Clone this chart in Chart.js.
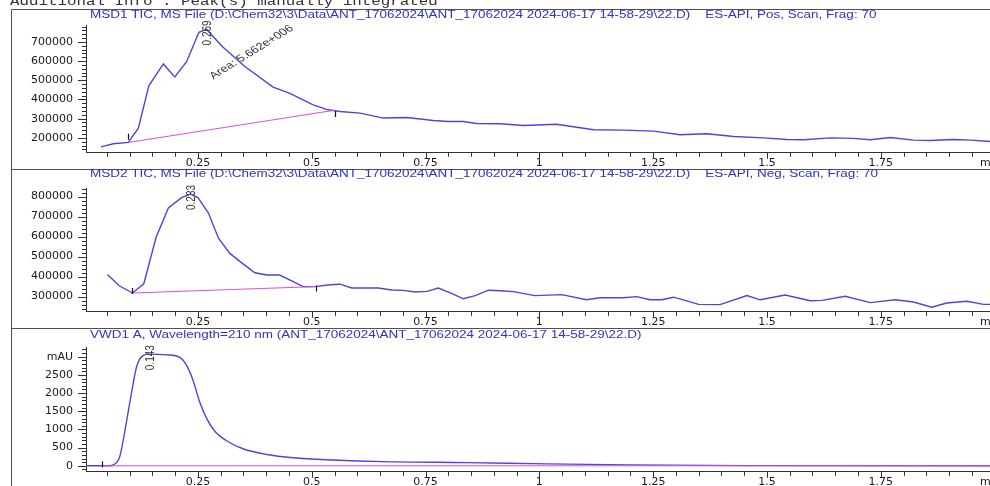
<!DOCTYPE html>
<html>
<head>
<meta charset="utf-8">
<script src="https://cdn.jsdelivr.net/npm/chart.js@4.4.1/dist/chart.umd.min.js"></script>
<style>
  html, body { margin: 0; padding: 0; background: #ffffff; }
  #page { position: relative; width: 990px; height: 486px; overflow: hidden; background: #ffffff; }
  #page canvas { position: absolute; left: 0; }
</style>
</head>
<body>
<div id="page">
  <canvas id="msd1" width="990" height="174" style="top:0px"></canvas>
  <canvas id="msd2" width="990" height="164" style="top:169px"></canvas>
  <canvas id="vwd1" width="990" height="165" style="top:328px"></canvas>
</div>
<script>
// ---------- retention time axis (min) ----------
const timeTicks = [0.25, 0.5, 0.75, 1, 1.25, 1.5, 1.75];
const timeTickLabels = ['0.25', '0.5', '0.75', '1', '1.25', '1.5', '1.75'];

// ---------- MSD1 TIC, ES-API positive scan ----------
const msd1Time = [0.037, 0.064, 0.097, 0.119, 0.142, 0.174, 0.199, 0.225, 0.252, 0.269, 0.304, 0.353,
  0.415, 0.452, 0.503, 0.536, 0.562, 0.606, 0.657, 0.709, 0.767, 0.800, 0.833, 0.862, 0.914, 0.965,
  1.038, 1.119, 1.185, 1.251, 1.309, 1.368, 1.427, 1.492, 1.544, 1.581, 1.639, 1.690, 1.727, 1.771,
  1.822, 1.859, 1.910, 1.947, 1.990];
const msd1Counts = [153000, 169000, 176000, 250000, 471000, 585000, 517000, 597000, 750000, 765000, 675000, 572000,
  464000, 432000, 372000, 346000, 337000, 329000, 303000, 306000, 290000, 285000, 285000, 275000, 273000, 264000,
  271000, 242000, 240000, 235000, 216000, 221000, 207000, 200000, 191000, 190000, 200000, 197000, 190000, 202000,
  188000, 186000, 191000, 188000, 181000];
const msd1BaseTime = [0.097, 0.551];
const msd1BaseCounts = [176000, 344000];
const msd1YTicks = [200000, 300000, 400000, 500000, 600000, 700000];
const msd1YTickLabels = ['200000', '300000', '400000', '500000', '600000', '700000'];
const msd1Peak = { time: 0.269, value: 765000, area: 'Area: 5.662e+006' };

// ---------- MSD2 TIC, ES-API negative scan ----------
const msd2Time = [0.051, 0.077, 0.106, 0.131, 0.158, 0.185, 0.214, 0.233, 0.250, 0.273, 0.295, 0.320,
  0.342, 0.375, 0.401, 0.429, 0.456, 0.481, 0.507, 0.540, 0.562, 0.588, 0.621, 0.646, 0.676, 0.701,
  0.727, 0.753, 0.778, 0.807, 0.833, 0.859, 0.888, 0.914, 0.943, 0.990, 1.049, 1.104, 1.133, 1.185,
  1.214, 1.243, 1.269, 1.295, 1.350, 1.397, 1.456, 1.485, 1.540, 1.595, 1.621, 1.672, 1.727, 1.782,
  1.822, 1.862, 1.895, 1.939, 1.976, 1.990];
const msd2Counts = [411000, 354000, 318000, 364000, 597000, 743000, 795000, 813000, 795000, 718000, 592000, 516000,
  476000, 419000, 408000, 408000, 379000, 350000, 350000, 359000, 362000, 343000, 343000, 343000, 333000, 331000,
  323000, 326000, 343000, 316000, 289000, 305000, 332000, 329000, 325000, 305000, 310000, 284000, 294000, 294000,
  300000, 284000, 284000, 297000, 261000, 260000, 305000, 284000, 308000, 279000, 281000, 302000, 270000, 284000,
  273000, 247000, 268000, 277000, 261000, 261000];
const msd2BaseTime = [0.106, 0.509];
const msd2BaseCounts = [318000, 350000];
const msd2YTicks = [300000, 400000, 500000, 600000, 700000, 800000];
const msd2YTickLabels = ['300000', '400000', '500000', '600000', '700000', '800000'];
const msd2Peak = { time: 0.233, value: 813000 };

// ---------- VWD1 A, 210 nm ----------
const vwdTime = [0.004, 0.056, 0.064, 0.078, 0.093, 0.104, 0.115, 0.126, 0.143, 0.181, 0.210, 0.225,
  0.240, 0.254, 0.269, 0.287, 0.313, 0.349, 0.401, 0.459, 0.547, 0.657, 0.840, 1.016, 1.199, 1.456, 1.990];
const vwdAbs = [0, 0, 26, 246, 1217, 2010, 2716, 2997, 3070, 3051, 2980, 2759,
  2320, 1746, 1305, 952, 688, 468, 310, 220, 159, 114, 87, 53, 26, 5, 0];
const vwdBaseTime = [0.040, 1.990];
const vwdBaseAbs = [0, 0];
const vwdYTicks = [0, 500, 1000, 1500, 2000, 2500, 3000];
const vwdYTickLabels = ['0', '500', '1000', '1500', '2000', '2500', 'mAU'];
const vwdPeak = { time: 0.143, value: 3070 };

// ---------- styling ----------
const TRACE = '#4848d8';
const BASELINE = '#e04ce0';
const INK = '#1a1a1a';
const TITLE_INK = '#3232c8';
const FRAME = '#505050';
const SX = 1.3;                       // horizontal stretch of the plot lettering
const TICK_FONT = { family: 'DejaVu Sans', size: 11 };

const zip = (xs, ys) => xs.map((x, i) => ({ x, y: ys[i] }));

function stretchedText(ctx, text, x, y, o) {
  ctx.save();
  ctx.translate(x, y);
  ctx.scale(o.sx || SX, 1);
  if (o.angle) ctx.rotate(o.angle);
  ctx.font = o.font;
  ctx.fillStyle = o.color || INK;
  ctx.textAlign = o.align || 'left';
  ctx.textBaseline = o.baseline || 'middle';
  ctx.fillText(text, 0, 0);
  ctx.restore();
}

// frame, titles, tick marks, peak annotations
const chemPanel = {
  id: 'chemPanel',
  afterDraw(chart, args, o) {
    const ctx = chart.ctx, xs = chart.scales.x, ys = chart.scales.y, ca = chart.chartArea;
    ctx.save();
    // panel frame
    ctx.strokeStyle = FRAME; ctx.lineWidth = 1;
    ctx.beginPath();
    ctx.moveTo(11.5, chart.height);
    ctx.lineTo(11.5, o.frameTop + 0.5);
    ctx.lineTo(chart.width, o.frameTop + 0.5);
    ctx.stroke();

    if (o.header) {
      stretchedText(ctx, o.header, 10, 5, { font: '12px "Liberation Mono"', color: '#333', baseline: 'alphabetic', sx: 1.32 });
    }
    stretchedText(ctx, o.title, 90, o.titleY, { font: '10px "Liberation Sans"', color: TITLE_INK, sx: 1.35 });

    // y tick marks
    ctx.strokeStyle = '#303030'; ctx.lineWidth = 1;
    ctx.beginPath();
    const first = Math.ceil(ys.min / o.yMinor);
    for (let k = first; k * o.yMinor <= ys.max; k++) {
      const v = k * o.yMinor;
      const py = Math.round(ys.getPixelForValue(v)) + 0.5;
      const major = o.yMajor.some(m => Math.abs(m - v) < o.yMinor / 10);
      ctx.moveTo(ca.left - (major ? 8 : 4), py);
      ctx.lineTo(ca.left, py);
    }
    // x tick marks, every 0.05 min
    for (let k = 1; k * 0.05 < xs.max; k++) {
      const t = k * 0.05;
      const px = Math.round(xs.getPixelForValue(t)) + 0.5;
      const major = timeTicks.some(m => Math.abs(m - t) < 0.001);
      ctx.moveTo(px, ca.bottom);
      ctx.lineTo(px, ca.bottom + (major ? 6 : 4));
    }
    ctx.stroke();

    // axis unit at the end of the time axis
    ctx.font = '11px "DejaVu Sans"'; ctx.fillStyle = INK;
    ctx.textAlign = 'left'; ctx.textBaseline = 'middle';
    ctx.fillText('min', 980, ca.bottom + 10.5);

    // integration event marks
    ctx.strokeStyle = '#111'; ctx.lineWidth = 1.2;
    ctx.beginPath();
    o.marks.forEach(([t, v]) => {
      const px = Math.round(xs.getPixelForValue(t)) + 0.5, py = ys.getPixelForValue(v);
      ctx.moveTo(px, py - 3); ctx.lineTo(px, py + 3);
    });
    ctx.stroke();

    // retention time label at the apex
    const ax = xs.getPixelForValue(o.peak.time), ay = ys.getPixelForValue(o.peak.value);
    stretchedText(ctx, o.peak.time.toFixed(3), ax + 1, ay + 16,
      { font: '10px "Liberation Sans"', color: '#333', angle: -Math.PI / 2 });
    if (o.peak.area) {
      stretchedText(ctx, o.peak.area, ax + 7, ay + 50,
        { font: '10px "Liberation Sans"', color: '#333', angle: -39 * Math.PI / 180, baseline: 'alphabetic' });
    }
    ctx.restore();
  }
};

function buildPanel(id, p) {
  const tickLabel = (values, labels) => v => {
    const i = values.findIndex(m => Math.abs(m - v) < 1e-6 * Math.max(1, Math.abs(m)));
    return i >= 0 ? labels[i] : '';
  };
  return new Chart(document.getElementById(id), {
    type: 'line',
    data: {
      datasets: [
        { data: zip(p.baseTime, p.baseVal), borderColor: BASELINE, borderWidth: 1, pointRadius: 0, tension: 0, order: 0 },
        { data: zip(p.time, p.val), borderColor: TRACE, borderWidth: 1.4, pointRadius: 0, order: 1,
          tension: p.smooth ? 0.4 : 0, cubicInterpolationMode: p.smooth ? 'monotone' : 'default' }
      ]
    },
    options: {
      responsive: false,
      animation: false,
      devicePixelRatio: 1,
      events: [],
      layout: { padding: { top: p.padTop, left: 0, right: 0, bottom: 0 } },
      plugins: {
        legend: { display: false },
        tooltip: { enabled: false },
        chemPanel: p.deco
      },
      scales: {
        x: {
          type: 'linear', min: 0.004, max: 1.99,
          afterBuildTicks: s => { s.ticks = timeTicks.map(v => ({ value: v })); },
          grid: { display: false, drawTicks: false },
          border: { display: true, color: '#303030', width: 1 },
          ticks: { autoSkip: false, maxRotation: 0, padding: 4, color: INK, font: TICK_FONT,
                   callback: tickLabel(timeTicks, timeTickLabels) }
        },
        y: {
          type: 'linear', min: p.yMin, max: p.yMax,
          afterBuildTicks: s => { s.ticks = p.yTicks.map(v => ({ value: v })); },
          afterFit: s => { s.width = 86; },
          grid: { display: false, drawTicks: false },
          border: { display: true, color: '#303030', width: 1 },
          ticks: { autoSkip: false, padding: 13, color: INK, font: TICK_FONT,
                   callback: tickLabel(p.yTicks, p.yTickLabels) }
        }
      }
    },
    plugins: [chemPanel]
  });
}

buildPanel('msd1', {
  time: msd1Time, val: msd1Counts, baseTime: msd1BaseTime, baseVal: msd1BaseCounts,
  yMin: 122000, yMax: 788000, yTicks: msd1YTicks, yTickLabels: msd1YTickLabels,
  padTop: 25,
  deco: {
    frameTop: 9, titleY: 15,
    header: 'Additional Info : Peak(s) manually integrated',
    title: 'MSD1 TIC, MS File (D:\\Chem32\\3\\Data\\ANT_17062024\\ANT_17062024 2024-06-17 14-58-29\\22.D)    ES-API, Pos, Scan, Frag: 70',
    yMinor: 20000, yMajor: msd1YTicks,
    marks: [[msd1BaseTime[0], msd1BaseCounts[0] + 30000], [msd1BaseTime[1], msd1BaseCounts[1] - 20000]],
    peak: msd1Peak
  }
});

buildPanel('msd2', {
  time: msd2Time, val: msd2Counts, baseTime: msd2BaseTime, baseVal: msd2BaseCounts,
  yMin: 224000, yMax: 840000, yTicks: msd2YTicks, yTickLabels: msd2YTickLabels,
  padTop: 16,
  deco: {
    frameTop: 0, titleY: 5,
    title: 'MSD2 TIC, MS File (D:\\Chem32\\3\\Data\\ANT_17062024\\ANT_17062024 2024-06-17 14-58-29\\22.D)    ES-API, Neg, Scan, Frag: 70',
    yMinor: 20000, yMajor: msd2YTicks,
    marks: [[msd2BaseTime[0], msd2BaseCounts[0] + 10000], [msd2BaseTime[1], msd2BaseCounts[1] - 10000]],
    peak: msd2Peak
  }
});

buildPanel('vwd1', {
  time: vwdTime, val: vwdAbs, baseTime: vwdBaseTime, baseVal: vwdBaseAbs, smooth: true,
  yMin: -165, yMax: 3250, yTicks: vwdYTicks, yTickLabels: vwdYTickLabels,
  padTop: 15,
  deco: {
    frameTop: 0, titleY: 7,
    title: 'VWD1 A, Wavelength=210 nm (ANT_17062024\\ANT_17062024 2024-06-17 14-58-29\\22.D)',
    yMinor: 100, yMajor: vwdYTicks,
    marks: [[vwdBaseTime[0], 40]],
    peak: vwdPeak
  }
});
</script>
</body>
</html>
